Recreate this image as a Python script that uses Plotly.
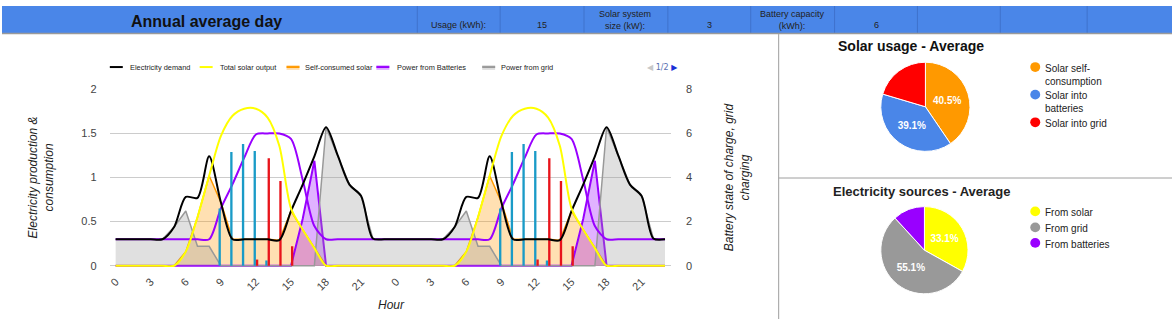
import plotly.graph_objects as go

W, H = 1172, 323
def px(x): return x / W
def py(y): return 1 - y / H

FONT = "Liberation Sans, Arial, sans-serif"

# ---------------- data (one average day, shown twice) ----------------
hours = list(range(24))
demand = [0.30, 0.30, 0.30, 0.30, 0.30, 0.44, 0.78, 0.77, 1.24, 0.72, 0.30, 0.30,
          0.30, 0.30, 0.29, 0.62, 0.92, 1.24, 1.57, 1.25, 0.92, 0.79, 0.31, 0.30]
solar = [0, 0, 0, 0, 0, 0.0, 0.16, 0.55, 1.02, 1.47, 1.70, 1.78,
         1.78, 1.68, 1.36, 0.65, 0.41, 0.20, 0.0, 0, 0, 0, 0, 0]
self_consumed = [0, 0, 0, 0, 0, 0, 0.16, 0.55, 1.02, 0.72, 0.30, 0.30,
                 0.30, 0.30, 0.29, 0.62, 0.41, 0.20, 0, 0, 0, 0, 0, 0]
from_batteries = [0, 0, 0, 0, 0, 0, 0, 0, 0, 0, 0, 0,
                  0, 0, 0, 0, 0.53, 1.19, 0, 0, 0, 0, 0, 0]
from_grid = [0.30, 0.30, 0.30, 0.30, 0.30, 0.44, 0.62, 0.22, 0.22, 0, 0, 0,
             0, 0, 0, 0, 0, 0, 1.57, 1.25, 0.92, 0.79, 0.31, 0.30]
battery_soc = [1.2, 1.2, 1.2, 1.2, 1.2, 1.2, 1.2, 1.2, 1.2, 2.6, 3.7, 4.9,
               5.95, 6.0, 6.0, 5.75, 3.9, 1.8, 1.2, 1.2, 1.2, 1.2, 1.2, 1.2]
solar_to_batteries = [0, 0, 0, 0, 0, 0, 0, 0, 0, 0.65, 1.29, 1.38,
                      1.30, 0.06, 0, 0, 0, 0, 0, 0, 0, 0, 0, 0]
solar_to_grid = [0, 0, 0, 0, 0, 0, 0, 0, 0, 0, 0, 0,
                 0.07, 1.22, 0.96, 0.22, 0, 0, 0, 0, 0, 0, 0, 0]

tick_hours = [0, 3, 6, 9, 12, 15, 18, 21]

usage_labels = ["Solar self-consumption", "Solar into batteries", "Solar into grid"]
usage_values = [40.5, 39.1, 20.4]
usage_colors = ["#ff9900", "#4a86e8", "#ff0000"]
source_labels = ["From solar", "From grid", "From batteries"]
source_values = [33.1, 55.1, 11.8]
source_colors = ["#ffff00", "#999999", "#9900ff"]

# two days
x48 = hours + [h + 24 for h in hours]
def two(a): return list(a) + list(a)

fig = go.Figure()

# areas (base subplot)
fig.add_trace(go.Scatter(x=x48, y=two(self_consumed), name="Self-consumed solar", mode="lines",
                         line=dict(color="#ff9900", width=1.5), fill="tozeroy",
                         fillcolor="rgba(255,153,0,0.3)", showlegend=False))
fig.add_trace(go.Scatter(x=x48, y=two(from_batteries), name="Power from Batteries", mode="lines",
                         line=dict(color="#9900ff", width=2), fill="tozeroy",
                         fillcolor="rgba(153,0,255,0.3)", showlegend=False))
fig.add_trace(go.Scatter(x=x48, y=two(from_grid), name="Power from grid", mode="lines",
                         line=dict(color="#999999", width=1.5), fill="tozeroy",
                         fillcolor="rgba(153,153,153,0.3)", showlegend=False))
# battery state of charge (right axis)
fig.add_trace(go.Scatter(x=x48, y=two(battery_soc), name="Battery state of charge", mode="lines",
                         yaxis="y2", line=dict(color="#9900ff", width=2, shape="spline", smoothing=0.8),
                         showlegend=False))
# bars
fig.add_trace(go.Bar(x=x48, y=two(solar_to_batteries), name="Solar into batteries", yaxis="y3",
                     marker=dict(color="#1a9bc7", line=dict(width=0)), showlegend=False))
fig.add_trace(go.Bar(x=x48, y=two(solar_to_grid), name="Solar into grid", yaxis="y3",
                     marker=dict(color="#e8141b", line=dict(width=0)), showlegend=False))
# lines
fig.add_trace(go.Scatter(x=x48, y=two(demand), name="Electricity demand", mode="lines", yaxis="y4",
                         line=dict(color="#000000", width=2, shape="spline", smoothing=0.8),
                         showlegend=False))
fig.add_trace(go.Scatter(x=x48, y=two(solar), name="Total solar output", mode="lines", yaxis="y4",
                         line=dict(color="#ffff00", width=2, shape="spline", smoothing=0.8),
                         showlegend=False))

# pies
pie_text = ["<b>%{percent:.1%}</b>", "<b>%{percent:.1%}</b>", ""]
fig.add_trace(go.Pie(labels=usage_labels, values=usage_values, sort=False, direction="clockwise",
                     rotation=0, marker=dict(colors=usage_colors, line=dict(color="white", width=1)),
                     domain=dict(x=[px(879), px(971)], y=[py(150), py(58)]),
                     texttemplate=pie_text,
                     textposition="inside", insidetextorientation="horizontal",
                     insidetextfont=dict(color="white", size=10, family=FONT),
                     showlegend=False))
fig.add_trace(go.Pie(labels=source_labels, values=source_values, sort=False, direction="clockwise",
                     rotation=0, marker=dict(colors=source_colors, line=dict(color="white", width=1)),
                     domain=dict(x=[px(879), px(969)], y=[py(297), py(207)]),
                     texttemplate=pie_text,
                     textposition="inside", insidetextorientation="horizontal",
                     insidetextfont=dict(color="white", size=10, family=FONT),
                     showlegend=False))

ydom = [py(269.4), py(86)]
tickfont = dict(size=11, color="#444444", family=FONT)
fig.update_layout(
    width=W, height=H, margin=dict(l=0, r=0, t=0, b=0),
    paper_bgcolor="white", plot_bgcolor="white",
    font=dict(family=FONT, color="#222222"),
    barmode="group", bargap=0.6, bargroupgap=0,
    showlegend=False,
    xaxis=dict(domain=[px(108), px(670)], range=[-0.5, 47.5],
               tickvals=[h for h in tick_hours] + [h + 24 for h in tick_hours],
               ticktext=[str(h) for h in tick_hours] * 2,
               tickangle=-45, tickfont=tickfont, ticks="outside", ticklen=3,
               tickcolor="rgba(0,0,0,0)", showgrid=False, zeroline=False, showline=False),
    yaxis=dict(domain=ydom, range=[-0.015, 2], tickvals=[0, 0.5, 1, 1.5, 2],
               ticktext=["0", "0.5", "1", "1.5", "2"], tickfont=tickfont,
               ticks="outside", ticklen=10, tickcolor="rgba(0,0,0,0)",
               gridcolor="#cccccc", zeroline=False, showline=False),
    yaxis2=dict(overlaying="y", side="right", range=[-0.06, 8], tickvals=[0, 2, 4, 6, 8],
                tickfont=tickfont, ticks="outside", ticklen=12, tickcolor="rgba(0,0,0,0)",
                showgrid=False, zeroline=False, showline=False),
    yaxis3=dict(overlaying="y", range=[-0.015, 2], visible=False),
    yaxis4=dict(overlaying="y", range=[-0.015, 2], visible=False),
)

def line_shape(x0, y0, x1, y1, color, width=1):
    return dict(type="line", xref="paper", yref="paper", x0=px(x0), x1=px(x1), y0=py(y0), y1=py(y1),
                line=dict(color=color, width=width))

def rect_shape(x0, y0, x1, y1, fill):
    return dict(type="rect", xref="paper", yref="paper", x0=px(x0), x1=px(x1), y0=py(y1), y1=py(y0),
                fillcolor=fill, line=dict(width=0))

shapes = []
# header bar
shapes.append(dict(type="rect", xref="paper", yref="paper", x0=0, x1=1, y0=py(28), y1=1,
                   fillcolor="#4a86e8", line=dict(width=0), layer="below"))
for xb in [416, 499, 583, 667, 750, 834, 917, 1000, 1087]:
    shapes.append(line_shape(xb, 0, xb, 28, "#3f72cc"))
shapes.append(line_shape(0, 28.5, W, 28.5, "#9a9a9a", 1.5))
# panel dividers
shapes.append(line_shape(778, 29, 778, H, "#9e9e9e"))
shapes.append(line_shape(778, 177.5, W, 177.5, "#9e9e9e"))

def ann(text, x, y, size=12, color="#222222", angle=0, family=FONT, xanchor="center"):
    return dict(text=text, x=px(x), y=py(y), xref="paper", yref="paper", showarrow=False,
                font=dict(size=size, color=color, family=family), textangle=angle,
                xanchor=xanchor, yanchor="middle")

annotations = [
    ann("<b>Annual average day</b>", 205, 16, size=16, color="#111111"),
    ann("Usage (kWh):", 457, 20, size=9),
    ann("15", 541, 20, size=9),
    ann("Solar system<br>size (kW):", 624, 14, size=9),
    ann("3", 709, 20, size=9),
    ann("Battery capacity<br>(kWh):", 792, 14, size=9),
    ann("6", 876, 20, size=9),
    ann("<i>Electricity production &<br>consumption</i>", 39, 177, size=12, angle=-90),
    ann("<i>Battery state of charge, grid<br>charging</i>", 736, 177, size=12, angle=-90),
    ann("<i>Hour</i>", 390, 309, size=12),
    ann("<span style='color:#c8c8c8'>◀</span> <span style='color:#5a6fb0'>1/2</span> "
        "<span style='color:#1a2fd6'>▶</span>", 662, 63, size=8, family="DejaVu Sans"),
    ann("<b>Solar usage - Average</b>", 911, 41, size=14, color="#111111"),
    ann("<b>Electricity sources - Average</b>", 922, 191, size=13, color="#222222"),
]

# main legend (page 1 of 2), drawn by hand to match spacing
legend_items = [
    ("Electricity demand", "#000000", None, 108, 126),
    ("Total solar output", "#ffff00", None, 198, 216),
    ("Self-consumed solar", "#ff9900", "rgba(255,153,0,0.3)", 285, 302),
    ("Power from Batteries", "#9900ff", "rgba(153,0,255,0.3)", 375, 394),
    ("Power from grid", "#999999", "rgba(153,153,153,0.3)", 481, 498),
]
for name, col, fill, ix, tx in legend_items:
    if fill:
        shapes.append(rect_shape(ix, 61, ix + 13, 66, fill))
    shapes.append(line_shape(ix, 63, ix + 13, 63, col, 2))
    annotations.append(ann(name, tx, 63.5, size=7.4, xanchor="left"))

# pie legends
def pie_legend(labels, colors, ys, text_lines):
    for lab, col, y, lines in zip(labels, colors, ys, text_lines):
        shapes.append(dict(type="circle", xref="paper", yref="paper",
                           x0=px(1030), x1=px(1040), y0=py(y + 5), y1=py(y - 5),
                           fillcolor=col, line=dict(width=0)))
        annotations.append(dict(text="<br>".join(lines), x=px(1043), y=py(y - 6.5), xref="paper",
                                yref="paper", showarrow=False, xanchor="left", yanchor="top",
                                align="left", font=dict(size=10, color="#222222", family=FONT)))

pie_legend(usage_labels, usage_colors, [63, 91.5, 120],
           [["Solar self-", "consumption"], ["Solar into", "batteries"], ["Solar into grid"]])
pie_legend(source_labels, source_colors, [212, 228.5, 244.5],
           [["From solar"], ["From grid"], ["From batteries"]])

fig.update_layout(shapes=shapes, annotations=annotations)

fig.write_html("out.html")
